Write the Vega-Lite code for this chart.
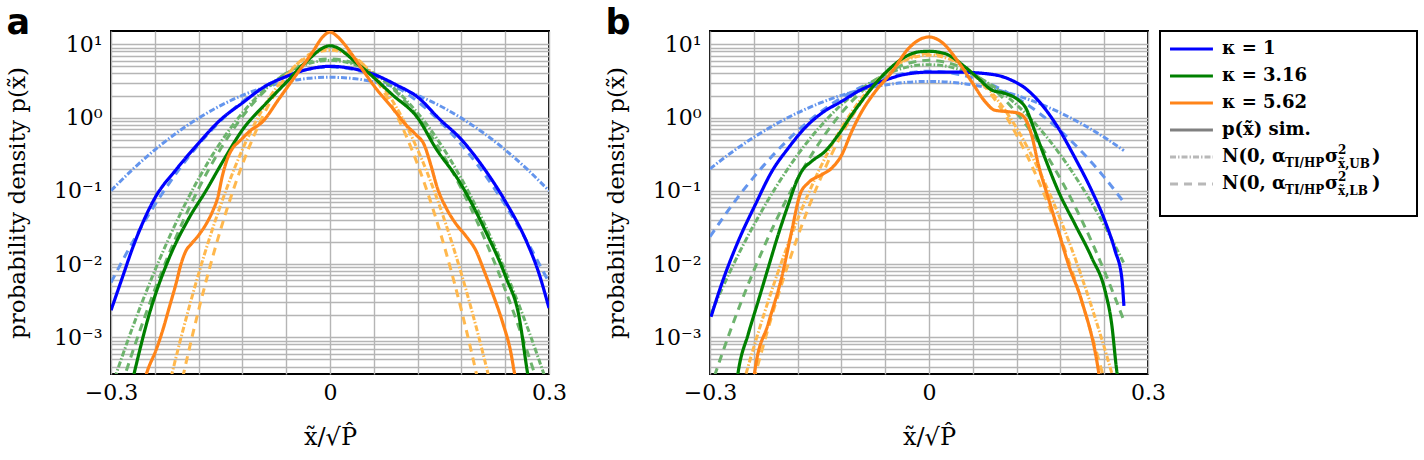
{
"$schema":"https://vega.github.io/schema/vega-lite/v6.json",
"background":"white",
"padding":{"left":5,"top":5,"right":5,"bottom":5},
"config":{
 "view":{"stroke":"black","strokeWidth":2},
 "font":"DejaVu Serif",
 "axis":{"labelFont":"DejaVu Serif","titleFont":"DejaVu Serif","labelColor":"black","titleColor":"black","titleFontWeight":"normal","gridColor":"#b5b5b5","gridWidth":1.4,"gridOpacity":1,"domain":false,"ticks":false,"labelOverlap":false,"labelFlush":false},
 "title":{"anchor":"start","frame":"bounds","font":"DejaVu Sans","fontSize":35,"fontWeight":"bold","color":"black","baseline":"alphabetic","offset":0,"dy":14}
},
"datasets":{"curves":[
{"p":"a","s":"b_sim","x":-0.3,"y":0.00234},{"p":"a","s":"b_sim","x":-0.285,"y":0.00631},{"p":"a","s":"b_sim","x":-0.27,"y":0.017},{"p":"a","s":"b_sim","x":-0.24,"y":0.0794},{"p":"a","s":"b_sim","x":-0.21,"y":0.1995},{"p":"a","s":"b_sim","x":-0.18,"y":0.447},{"p":"a","s":"b_sim","x":-0.15,"y":0.933},{"p":"a","s":"b_sim","x":-0.12,"y":1.585},{"p":"a","s":"b_sim","x":-0.09,"y":2.63},{"p":"a","s":"b_sim","x":-0.06,"y":3.63},{"p":"a","s":"b_sim","x":-0.03,"y":4.57},{"p":"a","s":"b_sim","x":0,"y":5.01},{"p":"a","s":"b_sim","x":0.03,"y":4.68},{"p":"a","s":"b_sim","x":0.06,"y":3.89},{"p":"a","s":"b_sim","x":0.09,"y":2.82},{"p":"a","s":"b_sim","x":0.12,"y":1.905},{"p":"a","s":"b_sim","x":0.15,"y":0.955},{"p":"a","s":"b_sim","x":0.18,"y":0.501},{"p":"a","s":"b_sim","x":0.21,"y":0.209},{"p":"a","s":"b_sim","x":0.24,"y":0.0724},{"p":"a","s":"b_sim","x":0.27,"y":0.0195},{"p":"a","s":"b_sim","x":0.285,"y":0.00813},{"p":"a","s":"b_sim","x":0.3,"y":0.00251},
{"p":"a","s":"b_ub","x":-0.3,"y":0.1003},{"p":"a","s":"b_ub","x":-0.27,"y":0.1975},{"p":"a","s":"b_ub","x":-0.24,"y":0.363},{"p":"a","s":"b_ub","x":-0.21,"y":0.619},{"p":"a","s":"b_ub","x":-0.18,"y":0.983},{"p":"a","s":"b_ub","x":-0.15,"y":1.457},{"p":"a","s":"b_ub","x":-0.12,"y":2.01},{"p":"a","s":"b_ub","x":-0.09,"y":2.58},{"p":"a","s":"b_ub","x":-0.06,"y":3.08},{"p":"a","s":"b_ub","x":-0.03,"y":3.43},{"p":"a","s":"b_ub","x":0,"y":3.55},{"p":"a","s":"b_ub","x":0.03,"y":3.43},{"p":"a","s":"b_ub","x":0.06,"y":3.08},{"p":"a","s":"b_ub","x":0.09,"y":2.58},{"p":"a","s":"b_ub","x":0.12,"y":2.01},{"p":"a","s":"b_ub","x":0.15,"y":1.457},{"p":"a","s":"b_ub","x":0.18,"y":0.983},{"p":"a","s":"b_ub","x":0.21,"y":0.619},{"p":"a","s":"b_ub","x":0.24,"y":0.363},{"p":"a","s":"b_ub","x":0.27,"y":0.1975},{"p":"a","s":"b_ub","x":0.3,"y":0.1003},
{"p":"a","s":"b_lb","x":-0.3,"y":0.0056},{"p":"a","s":"b_lb","x":-0.27,"y":0.02026},{"p":"a","s":"b_lb","x":-0.24,"y":0.0641},{"p":"a","s":"b_lb","x":-0.21,"y":0.177},{"p":"a","s":"b_lb","x":-0.18,"y":0.427},{"p":"a","s":"b_lb","x":-0.15,"y":0.899},{"p":"a","s":"b_lb","x":-0.12,"y":1.653},{"p":"a","s":"b_lb","x":-0.09,"y":2.66},{"p":"a","s":"b_lb","x":-0.06,"y":3.73},{"p":"a","s":"b_lb","x":-0.03,"y":4.57},{"p":"a","s":"b_lb","x":0,"y":4.89},{"p":"a","s":"b_lb","x":0.03,"y":4.57},{"p":"a","s":"b_lb","x":0.06,"y":3.73},{"p":"a","s":"b_lb","x":0.09,"y":2.66},{"p":"a","s":"b_lb","x":0.12,"y":1.653},{"p":"a","s":"b_lb","x":0.15,"y":0.899},{"p":"a","s":"b_lb","x":0.18,"y":0.427},{"p":"a","s":"b_lb","x":0.21,"y":0.177},{"p":"a","s":"b_lb","x":0.24,"y":0.0641},{"p":"a","s":"b_lb","x":0.27,"y":0.02026},{"p":"a","s":"b_lb","x":0.3,"y":0.0056},
{"p":"a","s":"g_sim","x":-0.272,"y":0.000224},{"p":"a","s":"g_sim","x":-0.2475,"y":0.00209},{"p":"a","s":"g_sim","x":-0.22,"y":0.0123},{"p":"a","s":"g_sim","x":-0.193,"y":0.0427},{"p":"a","s":"g_sim","x":-0.17,"y":0.1},{"p":"a","s":"g_sim","x":-0.147,"y":0.25},{"p":"a","s":"g_sim","x":-0.119,"y":0.7},{"p":"a","s":"g_sim","x":-0.088,"y":1.55},{"p":"a","s":"g_sim","x":-0.059,"y":3.09},{"p":"a","s":"g_sim","x":-0.033,"y":5.75},{"p":"a","s":"g_sim","x":0,"y":9.55},{"p":"a","s":"g_sim","x":0.04,"y":5.19},{"p":"a","s":"g_sim","x":0.0857,"y":2.04},{"p":"a","s":"g_sim","x":0.1205,"y":0.977},{"p":"a","s":"g_sim","x":0.145,"y":0.38},{"p":"a","s":"g_sim","x":0.177,"y":0.135},{"p":"a","s":"g_sim","x":0.213,"y":0.0282},{"p":"a","s":"g_sim","x":0.241,"y":0.0066},{"p":"a","s":"g_sim","x":0.259,"y":0.00191},{"p":"a","s":"g_sim","x":0.27,"y":0.000355},{"p":"a","s":"g_sim","x":0.274,"y":0.0002},
{"p":"a","s":"g_ub","x":-0.3,"y":0.000197},{"p":"a","s":"g_ub","x":-0.27,"y":0.001406},{"p":"a","s":"g_ub","x":-0.24,"y":0.00813},{"p":"a","s":"g_ub","x":-0.21,"y":0.0383},{"p":"a","s":"g_ub","x":-0.18,"y":0.1466},{"p":"a","s":"g_ub","x":-0.15,"y":0.457},{"p":"a","s":"g_ub","x":-0.12,"y":1.156},{"p":"a","s":"g_ub","x":-0.09,"y":2.38},{"p":"a","s":"g_ub","x":-0.06,"y":4.0},{"p":"a","s":"g_ub","x":-0.03,"y":5.45},{"p":"a","s":"g_ub","x":0,"y":6.04},{"p":"a","s":"g_ub","x":0.03,"y":5.45},{"p":"a","s":"g_ub","x":0.06,"y":4.0},{"p":"a","s":"g_ub","x":0.09,"y":2.38},{"p":"a","s":"g_ub","x":0.12,"y":1.156},{"p":"a","s":"g_ub","x":0.15,"y":0.457},{"p":"a","s":"g_ub","x":0.18,"y":0.1466},{"p":"a","s":"g_ub","x":0.21,"y":0.0383},{"p":"a","s":"g_ub","x":0.24,"y":0.00813},{"p":"a","s":"g_ub","x":0.27,"y":0.001406},{"p":"a","s":"g_ub","x":0.3,"y":0.000197},
{"p":"a","s":"g_lb","x":-0.285,"y":0.000229},{"p":"a","s":"g_lb","x":-0.27,"y":0.000651},{"p":"a","s":"g_lb","x":-0.24,"y":0.00448},{"p":"a","s":"g_lb","x":-0.21,"y":0.0245},{"p":"a","s":"g_lb","x":-0.18,"y":0.107},{"p":"a","s":"g_lb","x":-0.15,"y":0.372},{"p":"a","s":"g_lb","x":-0.12,"y":1.032},{"p":"a","s":"g_lb","x":-0.09,"y":2.28},{"p":"a","s":"g_lb","x":-0.06,"y":4.02},{"p":"a","s":"g_lb","x":-0.03,"y":5.65},{"p":"a","s":"g_lb","x":0,"y":6.33},{"p":"a","s":"g_lb","x":0.03,"y":5.65},{"p":"a","s":"g_lb","x":0.06,"y":4.02},{"p":"a","s":"g_lb","x":0.09,"y":2.28},{"p":"a","s":"g_lb","x":0.12,"y":1.032},{"p":"a","s":"g_lb","x":0.15,"y":0.372},{"p":"a","s":"g_lb","x":0.18,"y":0.107},{"p":"a","s":"g_lb","x":0.21,"y":0.0245},{"p":"a","s":"g_lb","x":0.24,"y":0.00448},{"p":"a","s":"g_lb","x":0.27,"y":0.000651},{"p":"a","s":"g_lb","x":0.285,"y":0.000229},
{"p":"a","s":"o_sim","x":-0.256,"y":0.000224},{"p":"a","s":"o_sim","x":-0.2498,"y":0.000356},{"p":"a","s":"o_sim","x":-0.2384,"y":0.000667},{"p":"a","s":"o_sim","x":-0.2292,"y":0.001245},{"p":"a","s":"o_sim","x":-0.2201,"y":0.00258},{"p":"a","s":"o_sim","x":-0.211,"y":0.00537},{"p":"a","s":"o_sim","x":-0.2041,"y":0.01},{"p":"a","s":"o_sim","x":-0.1973,"y":0.0152},{"p":"a","s":"o_sim","x":-0.1904,"y":0.01866},{"p":"a","s":"o_sim","x":-0.179,"y":0.0255},{"p":"a","s":"o_sim","x":-0.1699,"y":0.0349},{"p":"a","s":"o_sim","x":-0.1607,"y":0.053},{"p":"a","s":"o_sim","x":-0.1539,"y":0.0803},{"p":"a","s":"o_sim","x":-0.147,"y":0.1667},{"p":"a","s":"o_sim","x":-0.1402,"y":0.2805},{"p":"a","s":"o_sim","x":-0.1333,"y":0.3837},{"p":"a","s":"o_sim","x":-0.1242,"y":0.472},{"p":"a","s":"o_sim","x":-0.1105,"y":0.6457},{"p":"a","s":"o_sim","x":-0.0922,"y":0.883},{"p":"a","s":"o_sim","x":-0.0694,"y":1.828},{"p":"a","s":"o_sim","x":-0.0466,"y":3.793},{"p":"a","s":"o_sim","x":-0.0237,"y":7.87},{"p":"a","s":"o_sim","x":-0.01,"y":12.6},{"p":"a","s":"o_sim","x":0,"y":14.7},{"p":"a","s":"o_sim","x":0.01,"y":12.8},{"p":"a","s":"o_sim","x":0.0174,"y":10.7},{"p":"a","s":"o_sim","x":0.0402,"y":5.19},{"p":"a","s":"o_sim","x":0.063,"y":2.5},{"p":"a","s":"o_sim","x":0.0858,"y":1.34},{"p":"a","s":"o_sim","x":0.104,"y":0.794},{"p":"a","s":"o_sim","x":0.118,"y":0.582},{"p":"a","s":"o_sim","x":0.129,"y":0.4256},{"p":"a","s":"o_sim","x":0.138,"y":0.2275},{"p":"a","s":"o_sim","x":0.147,"y":0.1099},{"p":"a","s":"o_sim","x":0.159,"y":0.0587},{"p":"a","s":"o_sim","x":0.173,"y":0.0349},{"p":"a","s":"o_sim","x":0.186,"y":0.02427},{"p":"a","s":"o_sim","x":0.2,"y":0.0152},{"p":"a","s":"o_sim","x":0.211,"y":0.00813},{"p":"a","s":"o_sim","x":0.223,"y":0.00392},{"p":"a","s":"o_sim","x":0.237,"y":0.001535},{"p":"a","s":"o_sim","x":0.248,"y":0.000603},{"p":"a","s":"o_sim","x":0.252,"y":0.000356},{"p":"a","s":"o_sim","x":0.256,"y":0.000224},
{"p":"a","s":"o_ub","x":-0.225,"y":0.000141},{"p":"a","s":"o_ub","x":-0.21,"y":0.000582},{"p":"a","s":"o_ub","x":-0.195,"y":0.00217},{"p":"a","s":"o_ub","x":-0.18,"y":0.00736},{"p":"a","s":"o_ub","x":-0.15,"y":0.063},{"p":"a","s":"o_ub","x":-0.12,"y":0.366},{"p":"a","s":"o_ub","x":-0.09,"y":1.432},{"p":"a","s":"o_ub","x":-0.06,"y":3.8},{"p":"a","s":"o_ub","x":-0.03,"y":6.82},{"p":"a","s":"o_ub","x":0,"y":8.3},{"p":"a","s":"o_ub","x":0.03,"y":6.82},{"p":"a","s":"o_ub","x":0.06,"y":3.8},{"p":"a","s":"o_ub","x":0.09,"y":1.432},{"p":"a","s":"o_ub","x":0.12,"y":0.366},{"p":"a","s":"o_ub","x":0.15,"y":0.063},{"p":"a","s":"o_ub","x":0.18,"y":0.00736},{"p":"a","s":"o_ub","x":0.195,"y":0.00217},{"p":"a","s":"o_ub","x":0.21,"y":0.000582},{"p":"a","s":"o_ub","x":0.225,"y":0.000141},
{"p":"a","s":"o_lb","x":-0.21,"y":0.000119},{"p":"a","s":"o_lb","x":-0.195,"y":0.00056},{"p":"a","s":"o_lb","x":-0.18,"y":0.00235},{"p":"a","s":"o_lb","x":-0.15,"y":0.0292},{"p":"a","s":"o_lb","x":-0.12,"y":0.2296},{"p":"a","s":"o_lb","x":-0.09,"y":1.143},{"p":"a","s":"o_lb","x":-0.06,"y":3.6},{"p":"a","s":"o_lb","x":-0.03,"y":7.15},{"p":"a","s":"o_lb","x":0,"y":8.99},{"p":"a","s":"o_lb","x":0.03,"y":7.15},{"p":"a","s":"o_lb","x":0.06,"y":3.6},{"p":"a","s":"o_lb","x":0.09,"y":1.143},{"p":"a","s":"o_lb","x":0.12,"y":0.2296},{"p":"a","s":"o_lb","x":0.15,"y":0.0292},{"p":"a","s":"o_lb","x":0.18,"y":0.00235},{"p":"a","s":"o_lb","x":0.195,"y":0.00056},{"p":"a","s":"o_lb","x":0.21,"y":0.000119},
{"p":"b","s":"b_sim","x":-0.2986,"y":0.00191},{"p":"b","s":"b_sim","x":-0.284,"y":0.00537},{"p":"b","s":"b_sim","x":-0.261,"y":0.0209},{"p":"b","s":"b_sim","x":-0.238,"y":0.0646},{"p":"b","s":"b_sim","x":-0.215,"y":0.186},{"p":"b","s":"b_sim","x":-0.193,"y":0.38},{"p":"b","s":"b_sim","x":-0.17,"y":0.724},{"p":"b","s":"b_sim","x":-0.147,"y":1.148},{"p":"b","s":"b_sim","x":-0.12,"y":1.66},{"p":"b","s":"b_sim","x":-0.093,"y":2.4},{"p":"b","s":"b_sim","x":-0.06,"y":3.24},{"p":"b","s":"b_sim","x":-0.033,"y":3.89},{"p":"b","s":"b_sim","x":0,"y":4.17},{"p":"b","s":"b_sim","x":0.04,"y":4.17},{"p":"b","s":"b_sim","x":0.086,"y":3.89},{"p":"b","s":"b_sim","x":0.113,"y":3.24},{"p":"b","s":"b_sim","x":0.132,"y":2.51},{"p":"b","s":"b_sim","x":0.155,"y":1.479},{"p":"b","s":"b_sim","x":0.177,"y":0.724},{"p":"b","s":"b_sim","x":0.2,"y":0.282},{"p":"b","s":"b_sim","x":0.223,"y":0.1},{"p":"b","s":"b_sim","x":0.241,"y":0.0389},{"p":"b","s":"b_sim","x":0.255,"y":0.0151},{"p":"b","s":"b_sim","x":0.264,"y":0.0066},{"p":"b","s":"b_sim","x":0.267,"y":0.00269},
{"p":"b","s":"b_ub","x":-0.3,"y":0.2},{"p":"b","s":"b_ub","x":-0.27,"y":0.337},{"p":"b","s":"b_ub","x":-0.24,"y":0.538},{"p":"b","s":"b_ub","x":-0.21,"y":0.813},{"p":"b","s":"b_ub","x":-0.18,"y":1.161},{"p":"b","s":"b_ub","x":-0.15,"y":1.57},{"p":"b","s":"b_ub","x":-0.12,"y":2.01},{"p":"b","s":"b_ub","x":-0.09,"y":2.44},{"p":"b","s":"b_ub","x":-0.06,"y":2.79},{"p":"b","s":"b_ub","x":-0.03,"y":3.03},{"p":"b","s":"b_ub","x":0,"y":3.12},{"p":"b","s":"b_ub","x":0.03,"y":3.03},{"p":"b","s":"b_ub","x":0.06,"y":2.79},{"p":"b","s":"b_ub","x":0.09,"y":2.44},{"p":"b","s":"b_ub","x":0.12,"y":2.01},{"p":"b","s":"b_ub","x":0.15,"y":1.57},{"p":"b","s":"b_ub","x":0.18,"y":1.161},{"p":"b","s":"b_ub","x":0.21,"y":0.813},{"p":"b","s":"b_ub","x":0.24,"y":0.538},{"p":"b","s":"b_ub","x":0.267,"y":0.354},
{"p":"b","s":"b_lb","x":-0.3,"y":0.0236},{"p":"b","s":"b_lb","x":-0.27,"y":0.0635},{"p":"b","s":"b_lb","x":-0.24,"y":0.154},{"p":"b","s":"b_lb","x":-0.21,"y":0.336},{"p":"b","s":"b_lb","x":-0.18,"y":0.659},{"p":"b","s":"b_lb","x":-0.15,"y":1.169},{"p":"b","s":"b_lb","x":-0.12,"y":1.866},{"p":"b","s":"b_lb","x":-0.09,"y":2.69},{"p":"b","s":"b_lb","x":-0.06,"y":3.48},{"p":"b","s":"b_lb","x":-0.03,"y":4.07},{"p":"b","s":"b_lb","x":0,"y":4.29},{"p":"b","s":"b_lb","x":0.03,"y":4.07},{"p":"b","s":"b_lb","x":0.06,"y":3.48},{"p":"b","s":"b_lb","x":0.09,"y":2.69},{"p":"b","s":"b_lb","x":0.12,"y":1.866},{"p":"b","s":"b_lb","x":0.15,"y":1.169},{"p":"b","s":"b_lb","x":0.18,"y":0.659},{"p":"b","s":"b_lb","x":0.21,"y":0.336},{"p":"b","s":"b_lb","x":0.24,"y":0.154},{"p":"b","s":"b_lb","x":0.267,"y":0.0697},
{"p":"b","s":"g_sim","x":-0.264,"y":0.000224},{"p":"b","s":"g_sim","x":-0.261,"y":0.000355},{"p":"b","s":"g_sim","x":-0.2475,"y":0.00112},{"p":"b","s":"g_sim","x":-0.2338,"y":0.00316},{"p":"b","s":"g_sim","x":-0.2201,"y":0.00902},{"p":"b","s":"g_sim","x":-0.2064,"y":0.0255},{"p":"b","s":"g_sim","x":-0.1927,"y":0.0652},{"p":"b","s":"g_sim","x":-0.1813,"y":0.135},{"p":"b","s":"g_sim","x":-0.1744,"y":0.185},{"p":"b","s":"g_sim","x":-0.1607,"y":0.253},{"p":"b","s":"g_sim","x":-0.1425,"y":0.345},{"p":"b","s":"g_sim","x":-0.1242,"y":0.582},{"p":"b","s":"g_sim","x":-0.1059,"y":1.086},{"p":"b","s":"g_sim","x":-0.0877,"y":1.928},{"p":"b","s":"g_sim","x":-0.0694,"y":3.24},{"p":"b","s":"g_sim","x":-0.0511,"y":4.92},{"p":"b","s":"g_sim","x":-0.0329,"y":6.73},{"p":"b","s":"g_sim","x":-0.0146,"y":7.87},{"p":"b","s":"g_sim","x":0,"y":8.04},{"p":"b","s":"g_sim","x":0.0219,"y":7.46},{"p":"b","s":"g_sim","x":0.0493,"y":4.92},{"p":"b","s":"g_sim","x":0.0676,"y":3.42},{"p":"b","s":"g_sim","x":0.0858,"y":2.38},{"p":"b","s":"g_sim","x":0.1041,"y":2.14},{"p":"b","s":"g_sim","x":0.1224,"y":1.738},{"p":"b","s":"g_sim","x":0.1315,"y":1.409},{"p":"b","s":"g_sim","x":0.1452,"y":0.646},{"p":"b","s":"g_sim","x":0.1589,"y":0.2805},{"p":"b","s":"g_sim","x":0.1772,"y":0.0989},{"p":"b","s":"g_sim","x":0.2,"y":0.0349},{"p":"b","s":"g_sim","x":0.2228,"y":0.0123},{"p":"b","s":"g_sim","x":0.2411,"y":0.00435},{"p":"b","s":"g_sim","x":0.2502,"y":0.001535},{"p":"b","s":"g_sim","x":0.2571,"y":0.000356},{"p":"b","s":"g_sim","x":0.26,"y":0.000224},
{"p":"b","s":"g_ub","x":-0.3,"y":0.002},{"p":"b","s":"g_ub","x":-0.27,"y":0.00895},{"p":"b","s":"g_ub","x":-0.24,"y":0.0341},{"p":"b","s":"g_ub","x":-0.21,"y":0.111},{"p":"b","s":"g_ub","x":-0.18,"y":0.31},{"p":"b","s":"g_ub","x":-0.15,"y":0.736},{"p":"b","s":"g_ub","x":-0.12,"y":1.496},{"p":"b","s":"g_ub","x":-0.09,"y":2.59},{"p":"b","s":"g_ub","x":-0.06,"y":3.85},{"p":"b","s":"g_ub","x":-0.03,"y":4.88},{"p":"b","s":"g_ub","x":0,"y":5.27},{"p":"b","s":"g_ub","x":0.03,"y":4.88},{"p":"b","s":"g_ub","x":0.06,"y":3.85},{"p":"b","s":"g_ub","x":0.09,"y":2.59},{"p":"b","s":"g_ub","x":0.12,"y":1.496},{"p":"b","s":"g_ub","x":0.15,"y":0.736},{"p":"b","s":"g_ub","x":0.18,"y":0.31},{"p":"b","s":"g_ub","x":0.21,"y":0.111},{"p":"b","s":"g_ub","x":0.24,"y":0.0341},{"p":"b","s":"g_ub","x":0.267,"y":0.0103},
{"p":"b","s":"g_lb","x":-0.3,"y":0.000197},{"p":"b","s":"g_lb","x":-0.27,"y":0.001406},{"p":"b","s":"g_lb","x":-0.24,"y":0.00813},{"p":"b","s":"g_lb","x":-0.21,"y":0.0383},{"p":"b","s":"g_lb","x":-0.18,"y":0.1466},{"p":"b","s":"g_lb","x":-0.15,"y":0.457},{"p":"b","s":"g_lb","x":-0.12,"y":1.156},{"p":"b","s":"g_lb","x":-0.09,"y":2.38},{"p":"b","s":"g_lb","x":-0.06,"y":4.0},{"p":"b","s":"g_lb","x":-0.03,"y":5.45},{"p":"b","s":"g_lb","x":0,"y":6.04},{"p":"b","s":"g_lb","x":0.03,"y":5.45},{"p":"b","s":"g_lb","x":0.06,"y":4.0},{"p":"b","s":"g_lb","x":0.09,"y":2.38},{"p":"b","s":"g_lb","x":0.12,"y":1.156},{"p":"b","s":"g_lb","x":0.15,"y":0.457},{"p":"b","s":"g_lb","x":0.18,"y":0.1466},{"p":"b","s":"g_lb","x":0.21,"y":0.0383},{"p":"b","s":"g_lb","x":0.24,"y":0.00813},{"p":"b","s":"g_lb","x":0.267,"y":0.00169},
{"p":"b","s":"o_sim","x":-0.241,"y":0.000224},{"p":"b","s":"o_sim","x":-0.2384,"y":0.000355},{"p":"b","s":"o_sim","x":-0.2201,"y":0.00155},{"p":"b","s":"o_sim","x":-0.2018,"y":0.0066},{"p":"b","s":"o_sim","x":-0.1881,"y":0.0282},{"p":"b","s":"o_sim","x":-0.1767,"y":0.0891},{"p":"b","s":"o_sim","x":-0.1653,"y":0.129},{"p":"b","s":"o_sim","x":-0.147,"y":0.166},{"p":"b","s":"o_sim","x":-0.1333,"y":0.204},{"p":"b","s":"o_sim","x":-0.1196,"y":0.309},{"p":"b","s":"o_sim","x":-0.1059,"y":0.646},{"p":"b","s":"o_sim","x":-0.0922,"y":1.202},{"p":"b","s":"o_sim","x":-0.074,"y":2.24},{"p":"b","s":"o_sim","x":-0.0511,"y":4.17},{"p":"b","s":"o_sim","x":-0.0283,"y":8.71},{"p":"b","s":"o_sim","x":-0.01,"y":12.0},{"p":"b","s":"o_sim","x":0,"y":12.6},{"p":"b","s":"o_sim","x":0.0174,"y":10.7},{"p":"b","s":"o_sim","x":0.0402,"y":5.75},{"p":"b","s":"o_sim","x":0.0584,"y":3.09},{"p":"b","s":"o_sim","x":0.0767,"y":1.66},{"p":"b","s":"o_sim","x":0.0904,"y":1.259},{"p":"b","s":"o_sim","x":0.1087,"y":1.202},{"p":"b","s":"o_sim","x":0.1224,"y":1.148},{"p":"b","s":"o_sim","x":0.1315,"y":0.977},{"p":"b","s":"o_sim","x":0.1406,"y":0.575},{"p":"b","s":"o_sim","x":0.1498,"y":0.229},{"p":"b","s":"o_sim","x":0.1635,"y":0.0794},{"p":"b","s":"o_sim","x":0.1772,"y":0.0282},{"p":"b","s":"o_sim","x":0.1909,"y":0.01},{"p":"b","s":"o_sim","x":0.2091,"y":0.00316},{"p":"b","s":"o_sim","x":0.232,"y":0.000355},{"p":"b","s":"o_sim","x":0.235,"y":0.000224},
{"p":"b","s":"o_ub","x":-0.255,"y":0.000225},{"p":"b","s":"o_ub","x":-0.24,"y":0.000734},{"p":"b","s":"o_ub","x":-0.21,"y":0.00631},{"p":"b","s":"o_ub","x":-0.18,"y":0.0407},{"p":"b","s":"o_ub","x":-0.15,"y":0.197},{"p":"b","s":"o_ub","x":-0.12,"y":0.718},{"p":"b","s":"o_ub","x":-0.09,"y":1.954},{"p":"b","s":"o_ub","x":-0.06,"y":4.01},{"p":"b","s":"o_ub","x":-0.03,"y":6.17},{"p":"b","s":"o_ub","x":0,"y":7.11},{"p":"b","s":"o_ub","x":0.03,"y":6.17},{"p":"b","s":"o_ub","x":0.06,"y":4.01},{"p":"b","s":"o_ub","x":0.09,"y":1.954},{"p":"b","s":"o_ub","x":0.12,"y":0.718},{"p":"b","s":"o_ub","x":0.15,"y":0.197},{"p":"b","s":"o_ub","x":0.18,"y":0.0407},{"p":"b","s":"o_ub","x":0.21,"y":0.00631},{"p":"b","s":"o_ub","x":0.24,"y":0.000734},{"p":"b","s":"o_ub","x":0.255,"y":0.000225},
{"p":"b","s":"o_lb","x":-0.24,"y":0.000265},{"p":"b","s":"o_lb","x":-0.21,"y":0.00293},{"p":"b","s":"o_lb","x":-0.18,"y":0.0235},{"p":"b","s":"o_lb","x":-0.15,"y":0.137},{"p":"b","s":"o_lb","x":-0.12,"y":0.579},{"p":"b","s":"o_lb","x":-0.09,"y":1.778},{"p":"b","s":"o_lb","x":-0.06,"y":3.96},{"p":"b","s":"o_lb","x":-0.03,"y":6.4},{"p":"b","s":"o_lb","x":0,"y":7.52},{"p":"b","s":"o_lb","x":0.03,"y":6.4},{"p":"b","s":"o_lb","x":0.06,"y":3.96},{"p":"b","s":"o_lb","x":0.09,"y":1.778},{"p":"b","s":"o_lb","x":0.12,"y":0.579},{"p":"b","s":"o_lb","x":0.15,"y":0.137},{"p":"b","s":"o_lb","x":0.18,"y":0.0235},{"p":"b","s":"o_lb","x":0.21,"y":0.00293},{"p":"b","s":"o_lb","x":0.24,"y":0.000265}
]},
"bounds":"flush",
"spacing":161,
"resolve":{"scale":{"x":"independent","y":"independent","color":"independent","strokeDash":"independent"}},
"hconcat":[
{
 "width":438,"height":343,
 "title":{"text":"a"},
 "data":{"name":"curves"},
 "transform":[{"filter":"datum.p == 'a'"}],
 "encoding":{
  "x":{"field":"x","type":"quantitative","scale":{"domain":[-0.3,0.3],"nice":false,"zero":false},
   "axis":{"values":[-0.3,-0.24,-0.18,-0.12,-0.06,0,0.06,0.12,0.18,0.24,0.3],"labelExpr":"datum.value==0?'0':datum.value==0.3?'0.3':datum.value==-0.3?'−0.3':''","labelFontSize":22,"labelPadding":8,"title":"x̃/√P̂","titleFontSize":24,"titlePadding":22,"grid":true}},
  "y":{"field":"y","type":"quantitative","scale":{"type":"log","domain":[0.000316,15.2],"nice":false},
   "axis":{"values":[0.0004,0.0005,0.0006,0.0007,0.0008,0.0009,0.001,0.002,0.003,0.004,0.005,0.006,0.007,0.008,0.009,0.01,0.02,0.03,0.04,0.05,0.06,0.07,0.08,0.09,0.1,0.2,0.3,0.4,0.5,0.6,0.7,0.8,0.9,1,2,3,4,5,6,7,8,9,10],"labelExpr":"datum.value==10?'10¹':datum.value==1?'10⁰':datum.value==0.1?'10⁻¹':datum.value==0.01?'10⁻²':datum.value==0.001?'10⁻³':''","labelFontSize":22,"labelPadding":9,"title":"probability density p(x̃)","titleFontSize":23,"titlePadding":24,"grid":true}},
  "color":{"field":"s","type":"nominal","legend":null,"scale":{"domain":["b_sim","b_ub","b_lb","g_sim","g_ub","g_lb","o_sim","o_ub","o_lb"],"range":["#0000ff","#6495ed","#6495ed","#008000","#6db36d","#6db36d","#ff8419","#ffb84d","#ffb84d"]}},
  "strokeDash":{"field":"s","type":"nominal","legend":null,"scale":{"domain":["b_sim","b_ub","b_lb","g_sim","g_ub","g_lb","o_sim","o_ub","o_lb"],"range":[[1,0],[6,2,1.5,2],[8,6],[1,0],[6,2,1.5,2],[8,6],[1,0],[6,2,1.5,2],[8,6]]}}
 },
 "layer":[
  {"transform":[{"filter":"indexof(datum.s,'sim') < 0"}],"mark":{"type":"line","clip":true,"strokeWidth":3,"interpolate":"monotone"}},
  {"transform":[{"filter":"indexof(datum.s,'sim') >= 0"}],"mark":{"type":"line","clip":true,"strokeWidth":3.2,"interpolate":"monotone"}}
 ]
},
{
 "bounds":"flush",
 "spacing":12,
 "resolve":{"scale":{"x":"independent","y":"independent","color":"independent","strokeDash":"independent"}},
 "hconcat":[
 {
 "width":438,"height":343,
 "title":{"text":"b"},
 "data":{"name":"curves"},
 "transform":[{"filter":"datum.p == 'b'"}],
 "encoding":{
  "x":{"field":"x","type":"quantitative","scale":{"domain":[-0.3,0.3],"nice":false,"zero":false},
   "axis":{"values":[-0.3,-0.24,-0.18,-0.12,-0.06,0,0.06,0.12,0.18,0.24,0.3],"labelExpr":"datum.value==0?'0':datum.value==0.3?'0.3':datum.value==-0.3?'−0.3':''","labelFontSize":22,"labelPadding":8,"title":"x̃/√P̂","titleFontSize":24,"titlePadding":22,"grid":true}},
  "y":{"field":"y","type":"quantitative","scale":{"type":"log","domain":[0.000316,15.2],"nice":false},
   "axis":{"values":[0.0004,0.0005,0.0006,0.0007,0.0008,0.0009,0.001,0.002,0.003,0.004,0.005,0.006,0.007,0.008,0.009,0.01,0.02,0.03,0.04,0.05,0.06,0.07,0.08,0.09,0.1,0.2,0.3,0.4,0.5,0.6,0.7,0.8,0.9,1,2,3,4,5,6,7,8,9,10],"labelExpr":"datum.value==10?'10¹':datum.value==1?'10⁰':datum.value==0.1?'10⁻¹':datum.value==0.01?'10⁻²':datum.value==0.001?'10⁻³':''","labelFontSize":22,"labelPadding":9,"title":"probability density p(x̃)","titleFontSize":23,"titlePadding":24,"grid":true}},
  "color":{"field":"s","type":"nominal","legend":null,"scale":{"domain":["b_sim","b_ub","b_lb","g_sim","g_ub","g_lb","o_sim","o_ub","o_lb"],"range":["#0000ff","#6495ed","#6495ed","#008000","#6db36d","#6db36d","#ff8419","#ffb84d","#ffb84d"]}},
  "strokeDash":{"field":"s","type":"nominal","legend":null,"scale":{"domain":["b_sim","b_ub","b_lb","g_sim","g_ub","g_lb","o_sim","o_ub","o_lb"],"range":[[1,0],[6,2,1.5,2],[8,6],[1,0],[6,2,1.5,2],[8,6],[1,0],[6,2,1.5,2],[8,6]]}}
 },
 "layer":[
  {"transform":[{"filter":"indexof(datum.s,'sim') < 0"}],"mark":{"type":"line","clip":true,"strokeWidth":3,"interpolate":"monotone"}},
  {"transform":[{"filter":"indexof(datum.s,'sim') >= 0"}],"mark":{"type":"line","clip":true,"strokeWidth":3.2,"interpolate":"monotone"}}
 ]
 },
 {
 "width":257,"height":185,
 "encoding":{"y":{"field":"o","type":"quantitative","scale":{"domain":[0.333,7.185],"reverse":true,"nice":false,"zero":false},"axis":null}},
 "layer":[
  {"data":{"values":[{"o":1,"leg":"k1"},{"o":2,"leg":"k2"},{"o":3,"leg":"k3"},{"o":4,"leg":"sim"},{"o":5,"leg":"ub"},{"o":6,"leg":"lb"}]},
   "mark":{"type":"rule","strokeWidth":3.2},
   "encoding":{
    "x":{"datum":0.039,"type":"quantitative","scale":{"domain":[0,1],"nice":false,"zero":false},"axis":null},
    "x2":{"datum":0.206},
    "color":{"field":"leg","type":"nominal","legend":null,"scale":{"domain":["k1","k2","k3","sim","ub","lb"],"range":["#0000ff","#008000","#ff8419","#808080","#b8b8b8","#b8b8b8"]}},
    "strokeDash":{"field":"leg","type":"nominal","legend":null,"scale":{"domain":["k1","k2","k3","sim","ub","lb"],"range":[[1,0],[1,0],[1,0],[1,0],[6,2,1.5,2],[8,6]]}}
   }},
  {"data":{"values":[{"o":1,"t":"κ = 1"},{"o":2,"t":"κ = 3.16"},{"o":3,"t":"κ = 5.62"},{"o":4,"t":"p(x̃) sim."},{"o":5,"t":"N(0, α"},{"o":6,"t":"N(0, α"}]},
   "mark":{"type":"text","align":"left","baseline":"middle","font":"DejaVu Serif","fontWeight":"bold","fontSize":18,"color":"black"},
   "encoding":{"x":{"datum":0.2412,"type":"quantitative"},"text":{"field":"t"}}},
  {"data":{"values":[{"o":5,"t":"TI/HP"},{"o":6,"t":"TI/HP"}]},
   "mark":{"type":"text","align":"left","baseline":"middle","font":"DejaVu Serif","fontWeight":"bold","fontSize":12,"dy":6,"color":"black"},
   "encoding":{"x":{"datum":0.4864,"type":"quantitative"},"text":{"field":"t"}}},
  {"data":{"values":[{"o":5,"t":"σ"},{"o":6,"t":"σ"}]},
   "mark":{"type":"text","align":"left","baseline":"middle","font":"DejaVu Serif","fontWeight":"bold","fontSize":18,"color":"black"},
   "encoding":{"x":{"datum":0.642,"type":"quantitative"},"text":{"field":"t"}}},
  {"data":{"values":[{"o":5,"t":"2"},{"o":6,"t":"2"}]},
   "mark":{"type":"text","align":"left","baseline":"middle","font":"DejaVu Serif","fontWeight":"bold","fontSize":12,"dy":-7,"color":"black"},
   "encoding":{"x":{"datum":0.6926,"type":"quantitative"},"text":{"field":"t"}}},
  {"data":{"values":[{"o":5,"t":"x̃,UB"},{"o":6,"t":"x̃,LB"}]},
   "mark":{"type":"text","align":"left","baseline":"middle","font":"DejaVu Serif","fontWeight":"bold","fontSize":12,"dy":7,"color":"black"},
   "encoding":{"x":{"datum":0.6926,"type":"quantitative"},"text":{"field":"t"}}},
  {"data":{"values":[{"o":5,"t":")"},{"o":6,"t":")"}]},
   "mark":{"type":"text","align":"left","baseline":"middle","font":"DejaVu Serif","fontWeight":"bold","fontSize":18,"color":"black"},
   "encoding":{"x":{"datum":0.825,"type":"quantitative"},"text":{"field":"t"}}}
 ]
 }
 ]
}
]
}
